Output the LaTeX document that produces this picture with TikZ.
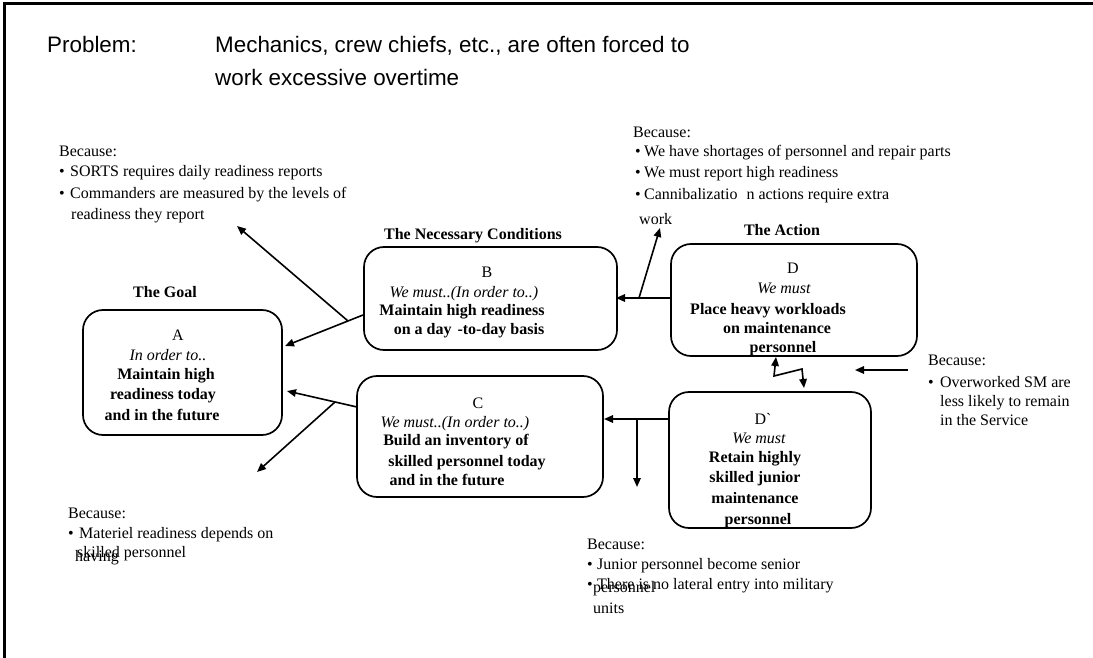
\documentclass[tikz,border=0pt]{standalone}
\usepackage{fontspec}
\setmainfont{Liberation Serif}
\newfontfamily\headfont{Liberation Sans}
\usetikzlibrary{arrows.meta}
\begin{document}
\begin{tikzpicture}[x=1pt,y=-1pt,
  box/.style={draw,line width=1.7pt,rounded corners=20pt,inner sep=0pt},
  txt/.style={inner sep=0pt,anchor=base,font=\fontsize{16}{19}\selectfont},
  ital/.style={txt,font=\fontsize{16}{19}\selectfont\itshape},
  bld/.style={txt,font=\fontsize{16}{19}\selectfont\bfseries},
  lt/.style={inner sep=0pt,anchor=base west,font=\fontsize{16}{19}\selectfont},
  ttl/.style={inner sep=0pt,anchor=base west,font=\headfont\fontsize{22.4}{27}\selectfont},
  arr/.style={line width=1.6pt,-{Triangle[length=9pt,width=7.5pt]}},
  dbl/.style={line width=1.6pt,{Triangle[length=9pt,width=7.5pt]}-{Triangle[length=9pt,width=7.5pt]}},
]
\useasboundingbox (0,0) rectangle (1093,658);
% slide frame
\draw[line width=3pt] (4,662) -- (4,4) -- (1097,4);

% title
\node[ttl] (t0) at (47,53) {Problem:};
\node[ttl] (t1) at (215,53) {Mechanics, crew chiefs, etc., are often forced to};
\node[ttl] (t2) at (215,86) {work excessive overtime};

% boxes
\node[box,minimum width=199pt,minimum height=125pt] (A) at (182.5,372.5) {};
\node[box,minimum width=253pt,minimum height=103pt] (B) at (490.5,298.5) {};
\node[box,minimum width=246pt,minimum height=121pt] (C) at (480,436.5) {};
\node[box,minimum width=246pt,minimum height=112pt] (D) at (794,300) {};
\node[box,minimum width=202pt,minimum height=136pt] (Dp) at (770,460) {};

% headings
\node[bld] (hA) at (165,297) {The Goal};
\node[bld] (hB) at (473,239) {The Necessary Conditions};
\node[bld] (hD) at (782,235) {The Action};

% box A text
\node[txt]  (a0) at (178,340) {A};
\node[ital] (a1) at (168,360) {In order to..};
\node[bld]  (a2) at (166,379) {Maintain high};
\node[bld]  (a3) at (163,399) {readiness today};
\node[bld]  (a4) at (162,420) {and in the future};

% box B text
\node[txt]  (b0) at (487,277) {B};
\node[ital] (b1) at (464,297) {We must..(In order to..)};
\node[bld]  (b2) at (462,315) {Maintain high readiness};
\node[bld]  (b3) at (469,334) {on a day\hspace{6pt}-to-day basis};

% box C text
\node[txt]  (c0) at (478,408) {C};
\node[ital] (c1) at (455,427) {We must..(In order to..)};
\node[bld]  (c2) at (456,445) {Build an inventory of};
\node[bld]  (c3) at (467,466) {skilled personnel today};
\node[bld]  (c4) at (447,485) {and in the future};

% box D text
\node[txt]  (d0) at (793,273) {D};
\node[ital] (d1) at (784,293) {We must};
\node[bld]  (d2) at (768,314) {Place heavy workloads};
\node[bld]  (d3) at (777,333) {on maintenance};
\node[bld]  (d4) at (783,352) {personnel};

% box D` text
\node[txt]  (e0) at (763,424) {D\textasciigrave};
\node[ital] (e1) at (759,443) {We must};
\node[bld]  (e2) at (755,462) {Retain highly};
\node[bld]  (e3) at (755,482) {skilled junior};
\node[bld]  (e4) at (755,503) {maintenance};
\node[bld]  (e5) at (758,524) {personnel};

% assumption notes
\node[lt] (n10) at (59,157) {Because:};
\node[lt] (n11) at (59,177) {\makebox[11pt][l]{•}SORTS requires daily readiness reports};
\node[lt] (n12) at (59,198) {\makebox[11pt][l]{•}Commanders are measured by the levels of};
\node[lt] (n13) at (71,219) {readiness they report};

\node[lt] (n20) at (633,138) {Because:};
\node[lt] (n21) at (635,157) {\makebox[9pt][l]{•}We have shortages of personnel and repair parts};
\node[lt] (n22) at (635,178) {\makebox[9pt][l]{•}We must report high readiness};
\node[lt] (n23) at (635,200) {\makebox[9pt][l]{•}Cannibalizatio\hspace{9pt}n actions require extra};
\node[lt] (n24) at (639,225) {work};

\node[lt] (n30) at (928,365) {Because:};
\node[lt] (n31) at (928,387) {\makebox[12pt][l]{•}Overworked SM are};
\node[lt] (n32) at (940,406) {less likely to remain};
\node[lt] (n33) at (940,425) {in the Service};

\node[lt] (n40) at (68,518) {Because:};
\node[lt] (n41) at (68,538) {\makebox[11pt][l]{•}Materiel readiness depends on};
\node[lt] (n42) at (77,557) {skilled personnel};
\node[lt] (n43) at (75,561) {having};

\node[lt] (n50) at (587,549) {Because:};
\node[lt] (n51) at (587,569) {\makebox[10pt][l]{•}Junior personnel become senior};
\node[lt] (n52) at (587,589) {\makebox[10pt][l]{•}There is no lateral entry into military};
\node[lt] (n53) at (593,592) {personnel};
\node[lt] (n54) at (593,613) {units};

% connector end points
\coordinate (ba1) at (363,315);
\coordinate (ba2) at (285,346);
\coordinate (baj) at (348,321);
\coordinate (bat) at (237,226);
\coordinate (ca1) at (357,407);
\coordinate (ca2) at (287,391);
\coordinate (caj) at (335,402);
\coordinate (cat) at (257,472);
\coordinate (db1) at (671,298);
\coordinate (db2) at (616,298);
\coordinate (dbj) at (639,298);
\coordinate (dbt) at (660,228);
\coordinate (ec1) at (669,419);
\coordinate (ec2) at (604,419);
\coordinate (ecj) at (637,419);
\coordinate (ect) at (637,487);
\coordinate (z1) at (776,357);
\coordinate (z2) at (774,376);
\coordinate (z3) at (802,369);
\coordinate (z4) at (804,388);
\coordinate (r1) at (908,370);
\coordinate (r2) at (855,370);

% connectors
\draw[arr] (ba1) -- (ba2);
\draw[arr] (baj) -- (bat);
\draw[arr] (ca1) -- (ca2);
\draw[arr] (caj) -- (cat);
\draw[arr] (db1) -- (db2);
\draw[arr] (dbj) -- (dbt);
\draw[arr] (ec1) -- (ec2);
\draw[arr] (ecj) -- (ect);
\draw[dbl] (z1) -- (z2) -- (z3) -- (z4);
\draw[arr] (r1) -- (r2);
\end{tikzpicture}
\end{document}
